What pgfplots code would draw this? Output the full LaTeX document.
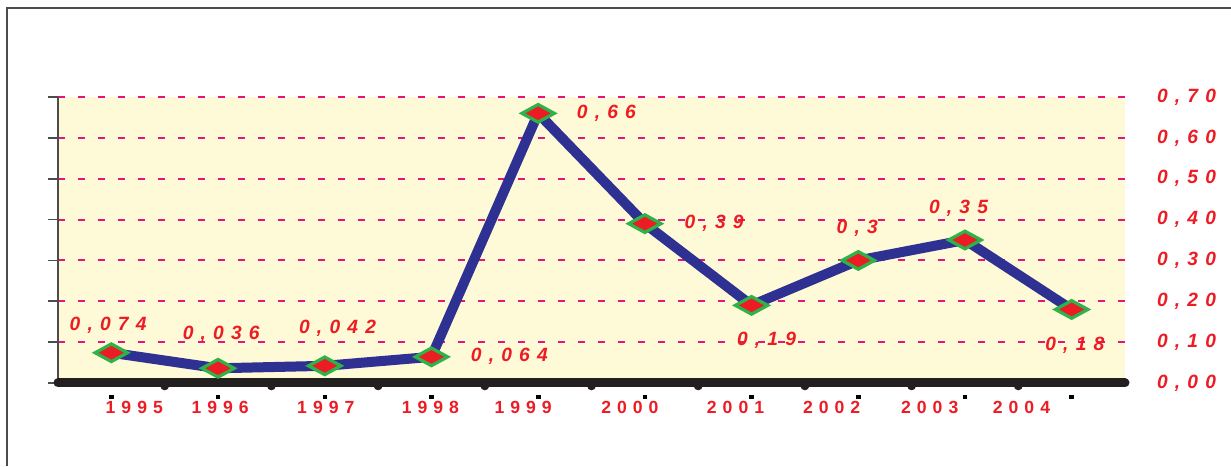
\documentclass[border=0pt]{standalone}
\usepackage{fontspec}
\setmainfont{Liberation Sans}
\usepackage{pgfplots}
\pgfplotsset{compat=1.18}
\definecolor{lblred}{HTML}{ED1C24}
\definecolor{lineblue}{HTML}{2E3192}
\definecolor{mkgreen}{HTML}{2DB34A}
\definecolor{bgyellow}{HTML}{FEF9D6}
\definecolor{gridmag}{HTML}{E5147F}
\definecolor{basedark}{HTML}{231F20}
\newcommand\ls{\kern3.6pt}
\newcommand\xs{\kern3pt}
\newcommand\lblfont{\fontsize{9.6}{11}\selectfont\bfseries\itshape}
\newcommand\xlfont{\fontsize{8.8}{10}\selectfont\bfseries}
\begin{document}
\begin{tikzpicture}
\path[use as bounding box] (0,0) rectangle (615.5pt,233pt);
\draw[gray!60!black, line width=0.6pt] (3.5pt,0) -- (3.5pt,229pt) -- (615.5pt,229pt);
\begin{axis}[
  at={(29pt,41.5pt)}, anchor=south west,
  scale only axis, width=533.5pt, height=143pt,
  xmin=0, xmax=10, ymin=0, ymax=0.7,
  clip=false,
  axis background/.style={fill=bgyellow},
  axis line style={draw=none},
  xtick=\empty,
  ytick={0,0.1,0.2,0.3,0.4,0.5,0.6,0.7},
  yticklabels={{0\ls,\ls0\ls0},{0\ls,\ls1\ls0},{0\ls,\ls2\ls0},{0\ls,\ls3\ls0},{0\ls,\ls4\ls0},{0\ls,\ls5\ls0},{0\ls,\ls6\ls0},{0\ls,\ls7\ls0}},
  ytick pos=left, yticklabel pos=right,
  tick align=outside, major tick length=5pt,
  ytick style={gray!60!black, line width=0.8pt},
  yticklabel style={font=\lblfont, text=lblred, anchor=west, xshift=7.5pt},
  ymajorgrids,
  grid style={dash pattern=on 3.5pt off 6.5pt, color=gridmag, line width=1pt},
]
\draw[gray!60!black, line width=0.8pt] (axis cs:0,0) -- (axis cs:0,0.7);
\draw[basedark, line width=4.5pt, line cap=round] (axis cs:0,0) -- (axis cs:10,0);
\addplot[only marks, mark=*, mark size=2pt, basedark] coordinates {(1,-0.007) (2,-0.007) (3,-0.007) (4,-0.007) (5,-0.007) (6,-0.007) (7,-0.007) (8,-0.007) (9,-0.007)};
\addplot[only marks, mark=square*, mark size=0.9pt, black] coordinates {(0.5,-0.034) (1.5,-0.034) (2.5,-0.034) (3.5,-0.034) (4.5,-0.034) (5.5,-0.034) (6.5,-0.034) (7.5,-0.034) (8.5,-0.034) (9.5,-0.034)};
\addplot[color=lineblue, line width=5pt, mark=diamond*, mark size=4.4pt,
  mark options={xscale=2.45, draw=mkgreen, fill=lblred, line width=1.6pt}]
  coordinates {(0.5,0.074) (1.5,0.036) (2.5,0.042) (3.5,0.064) (4.5,0.66) (5.5,0.39) (6.5,0.19) (7.5,0.30) (8.5,0.35) (9.5,0.18)};
\begin{scope}[every node/.style={font=\lblfont, text=lblred, inner sep=0pt}]
\node at (axis cs:0.47,0.142) {0\ls,\ls0\ls7\ls4};
\node at (axis cs:1.53,0.120) {0\ls,\ls0\ls3\ls6};
\node at (axis cs:2.62,0.135) {0\ls,\ls0\ls4\ls2};
\node at (axis cs:4.23,0.066) {0\ls,\ls0\ls6\ls4};
\node at (axis cs:5.14,0.661) {0\ls,\ls6\ls6};
\node at (axis cs:6.15,0.392) {0\ls,\ls3\ls9};
\node at (axis cs:6.64,0.105) {0\ls,\ls1\ls9};
\node at (axis cs:7.49,0.379) {0\ls,\ls3};
\node at (axis cs:8.44,0.428) {0\ls,\ls3\ls5};
\node at (axis cs:9.53,0.093) {0\ls,\ls1\ls8};
\end{scope}
\begin{scope}[every node/.style={font=\xlfont, text=lblred, inner sep=0pt}]
\node at (axis cs:0.715,-0.059) {1\xs9\xs9\xs5};
\node at (axis cs:1.52,-0.059) {1\xs9\xs9\xs6};
\node at (axis cs:2.51,-0.059) {1\xs9\xs9\xs7};
\node at (axis cs:3.49,-0.059) {1\xs9\xs9\xs8};
\node at (axis cs:4.36,-0.059) {1\xs9\xs9\xs9};
\node at (axis cs:5.36,-0.059) {2\xs0\xs0\xs0};
\node at (axis cs:6.35,-0.059) {2\xs0\xs0\xs1};
\node at (axis cs:7.25,-0.059) {2\xs0\xs0\xs2};
\node at (axis cs:8.17,-0.059) {2\xs0\xs0\xs3};
\node at (axis cs:9.03,-0.059) {2\xs0\xs0\xs4};
\end{scope}
\end{axis}
\end{tikzpicture}
\end{document}
